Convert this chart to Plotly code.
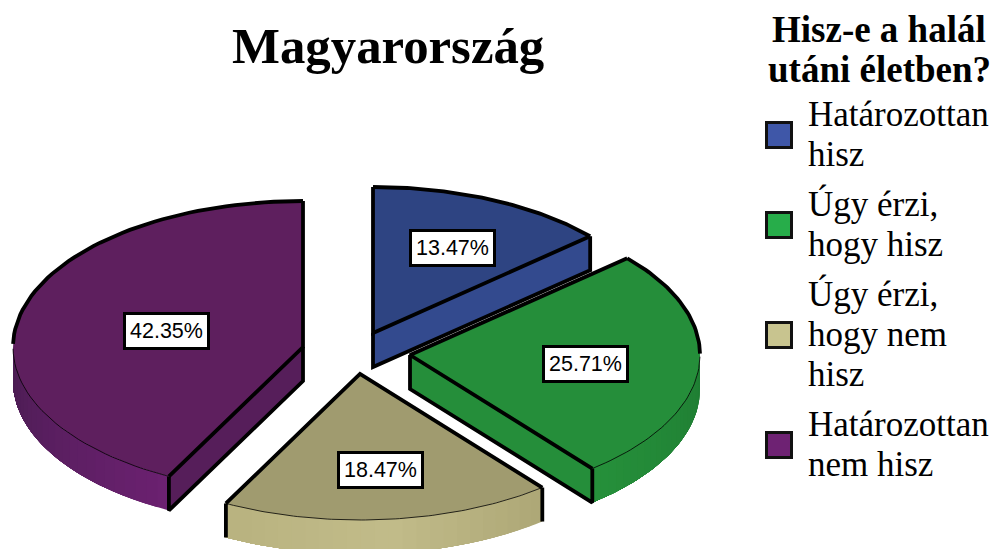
import numpy as np
import plotly.graph_objects as go

# --- data ---
categories = ["Határozottan hisz", "Úgy érzi, hogy hisz", "Úgy érzi, hogy nem hisz", "Határozottan nem hisz"]
shares = [13.47, 25.71, 18.47, 42.35]
legend_lines = [["Határozottan", "hisz"], ["Úgy érzi,", "hogy hisz"], ["Úgy érzi,", "hogy nem", "hisz"], ["Határozottan", "nem hisz"]]
title_text = "Magyarország"
legend_title_lines = ["Hisz-e a halál", "utáni életben?"]

# --- styling / projection ---
W, H = 997, 549
A, B, DEPTH = 290, 146, 34                     # ellipse radii and pie thickness
APEX = [(373, 333), (410, 355), (360, 374), (303, 347)]   # exploded slice apexes
LABEL_R = [0.65, 0.60, 0.65, 0.49]
TOP = ["#2e4482", "#258e3a", "#a09b6f", "#5e1f5e"]
WALL = ["#334a8e", "#258e3a", None, "#561e5a"]
RIM = [None, ("#1f7d33", "#26903b"), ("#aea877", "#c2bc8a", "#b9b380"), ("#6b2170", "#4a1d52")]
SWATCH = ["#3f57a8", "#27ad4a", "#c8c48f", "#6e2273"]
SWATCH_Y = [135, 225, 335, 445]
LEGEND_Y = [[114, 154], [204, 244], [294, 334, 374], [424, 464]]
SERIF = "Liberation Serif"
SANS = "Liberation Sans"

fig = go.Figure()


def arc(apex, t0, t1, n=80, dy=0):
    t = np.radians(np.linspace(t0, t1, n))
    return apex[0] + A * np.sin(t), apex[1] - B * np.cos(t) + dy


def poly(xs, ys, color):
    fig.add_trace(go.Scatter(x=xs, y=ys, mode="lines", fill="toself", fillcolor=color,
                             line=dict(color=color, width=0), hoverinfo="skip", showlegend=False))


def stroke(xs, ys, width=3.8):
    fig.add_trace(go.Scatter(x=xs, y=ys, mode="lines", line=dict(color="black", width=width),
                             hoverinfo="skip", showlegend=False))


def hex2rgb(h):
    return np.array([int(h[i:i + 2], 16) for i in (1, 3, 5)], float)


def blend(stops, f):
    p = f * (len(stops) - 1)
    i = min(int(p), len(stops) - 2)
    c = hex2rgb(stops[i]) + (hex2rgb(stops[i + 1]) - hex2rgb(stops[i])) * (p - i)
    return "rgb(%d,%d,%d)" % tuple(c)


edges = np.concatenate([[0], np.cumsum(shares)]) * 3.6

for i in [3, 0, 1, 2]:
    t0, t1 = edges[i], edges[i + 1]
    ap = APEX[i]
    # outer rim (front half only), shaded in overlapping bands
    r0, r1 = max(t0, 90), min(t1, 270)
    if RIM[i] and r1 > r0:
        bands = np.linspace(r0, r1, 25)
        for k in range(24):
            # each band runs through to the end of the rim, so later bands cover earlier ones without seams
            x1, y1 = arc(ap, bands[k], r1, 40)
            x2, y2 = arc(ap, r1, bands[k], 40, DEPTH)
            poly(np.r_[x1, x2], np.r_[y1, y2], blend(RIM[i], k / 23))
    # straight cut wall that faces the viewer
    if WALL[i]:
        t = t0 if i == 3 else t1
        ex, ey = arc(ap, t, t, 1)
        poly([ap[0], ex[0], ex[0], ap[0]], [ap[1], ey[0], ey[0] + DEPTH, ap[1] + DEPTH], WALL[i])
        stroke([ap[0], ap[0], ex[0], ex[0]], [ap[1], ap[1] + DEPTH, ey[0] + DEPTH, ey[0]])
    # top face
    ax, ay = arc(ap, t0, t1)
    poly(np.r_[ap[0], ax], np.r_[ap[1], ay], TOP[i])
    # radial edges
    stroke([ax[0], ap[0], ax[-1]], [ay[0], ap[1], ay[-1]])
    # arc outline: thick on the back half, hairline on the front
    mask_back = np.cos(np.radians(np.linspace(t0, t1, len(ax)))) >= 0
    if mask_back.any():
        stroke(ax[mask_back], ay[mask_back])
    if (~mask_back).any():
        stroke(ax[~mask_back], ay[~mask_back], 0.8)
    # the tan slice has a vertical at both rim ends
    if i == 2:
        for t in (t0, t1):
            ex, ey = arc(ap, t, t, 1)
            stroke([ex[0], ex[0]], [ey[0], ey[0] + DEPTH])

annotations = []
for i, v in enumerate(shares):
    m = np.radians((edges[i] + edges[i + 1]) / 2)
    annotations.append(dict(
        x=APEX[i][0] + LABEL_R[i] * A * np.sin(m) + 2, y=APEX[i][1] - LABEL_R[i] * B * np.cos(m) + 1.5,
        text=f"{v:.2f}%", showarrow=False, bgcolor="white", bordercolor="black", borderwidth=3, borderpad=4,
        font=dict(family=SANS, size=21.5, color="black")))

annotations.append(dict(x=388, y=46, text=f"<b>{title_text}</b>", showarrow=False,
                        font=dict(family=SERIF, size=50.8, color="black")))
for y, line in zip([29, 69], legend_title_lines):
    annotations.append(dict(x=879, y=y, text=f"<b>{line}</b>", showarrow=False,
                            font=dict(family=SERIF, size=37, color="black")))
for ys, lines in zip(LEGEND_Y, legend_lines):
    for y, line in zip(ys, lines):
        annotations.append(dict(x=806, y=y, text=line, showarrow=False, xanchor="left",
                                font=dict(family=SERIF, size=35, color="black")))

fig.add_trace(go.Scatter(
    x=[779] * 4, y=SWATCH_Y, mode="markers", text=categories, hoverinfo="text", showlegend=False,
    marker=dict(symbol="square", size=25, color=SWATCH, line=dict(color="#111111", width=3))))

fig.update_layout(
    width=W, height=H, margin=dict(l=0, r=0, t=0, b=0),
    paper_bgcolor="white", plot_bgcolor="white", showlegend=False, annotations=annotations,
    xaxis=dict(range=[0, W], visible=False, fixedrange=True),
    yaxis=dict(range=[H, 0], visible=False, fixedrange=True),
)
fig.write_html("out.html", config={"displayModeBar": False},
               post_script="document.body.style.margin='0';document.body.style.overflow='hidden';")
